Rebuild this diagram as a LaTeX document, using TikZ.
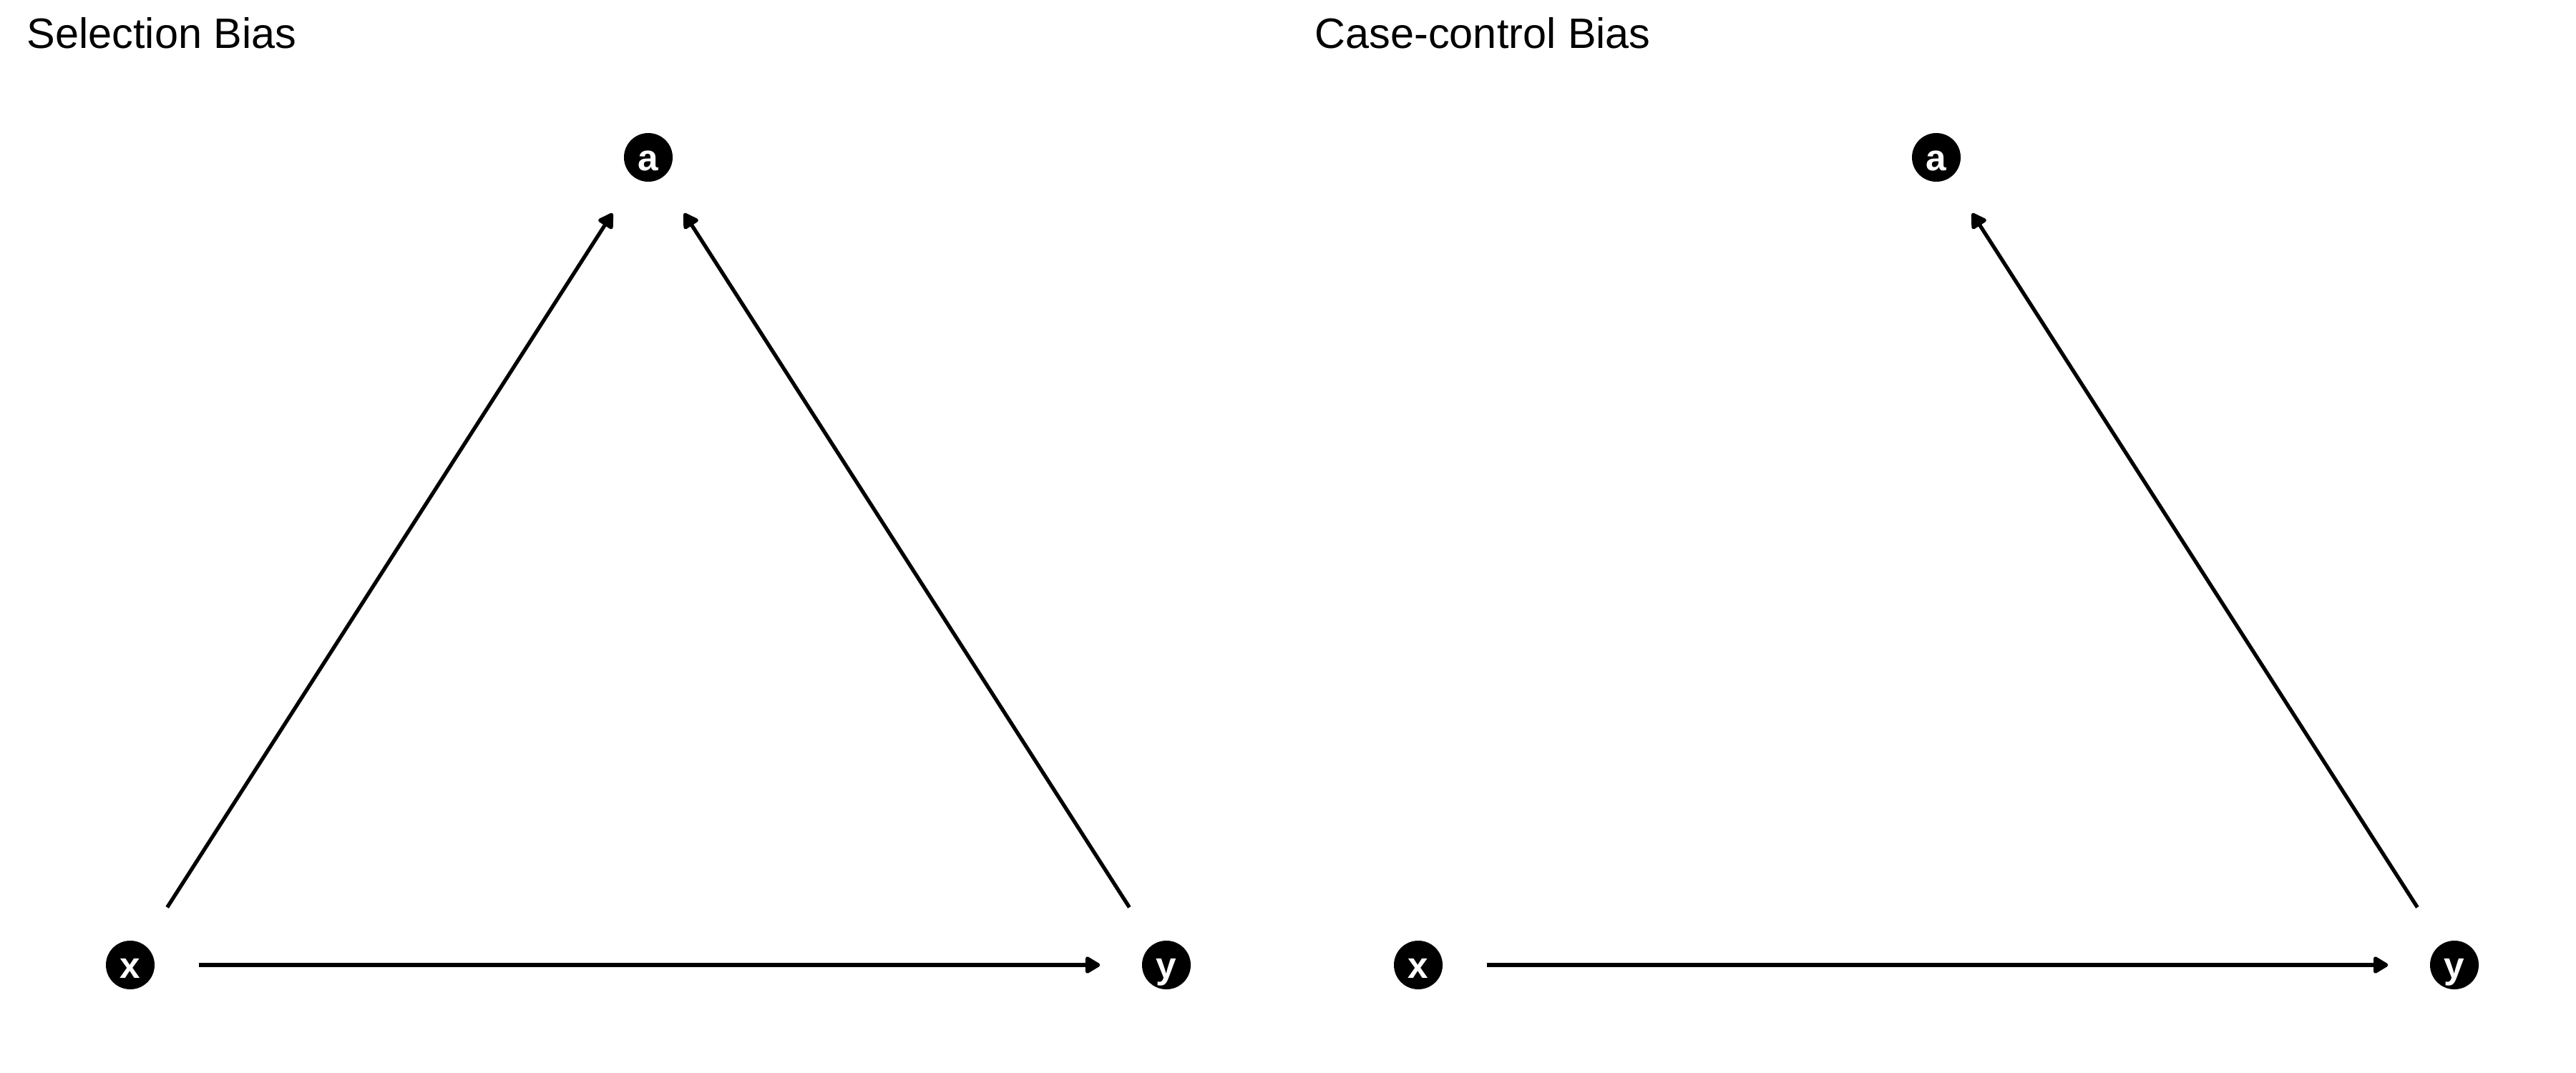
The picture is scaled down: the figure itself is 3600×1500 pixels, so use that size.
\documentclass[tikz,border=0pt]{standalone}
\usepackage{fontspec}
\setmainfont{Liberation Sans}
\usetikzlibrary{arrows.meta}
\begin{document}
\begin{tikzpicture}[x=0.01cm,y=-0.01cm,
  dagnode/.style={circle,fill=black,minimum size=0.68cm,inner sep=0pt,text=white,text height=0.36cm,text depth=0cm,font=\fontsize{14.6}{16}\selectfont\bfseries},
  title/.style={anchor=base west,inner sep=0pt,font=\fontsize{16.9}{19}\selectfont},
  edge/.style={line width=1.5pt,-{Triangle[length=0.23cm,width=0.26cm,round]},shorten <=0.61cm,shorten >=0.58cm}]
\useasboundingbox (0,0) rectangle (3600,1500);
% left panel
\node[title] (t1) at (37,68) {Selection Bias};
\node[dagnode] (a1) at (906,220) {a};
\node[dagnode] (x1) at (182,1349) {x};
\node[dagnode] (y1) at (1630,1349) {y};
\draw[edge] (x1) -- (a1);
\draw[edge] (y1) -- (a1);
\draw[edge] (x1) -- (y1);
% right panel
\node[title] (t2) at (1837,68) {Case-control Bias};
\node[dagnode] (a2) at (2706,220) {a};
\node[dagnode] (x2) at (1982,1349) {x};
\node[dagnode] (y2) at (3430,1349) {y};
\draw[edge] (y2) -- (a2);
\draw[edge] (x2) -- (y2);
\end{tikzpicture}
\end{document}
